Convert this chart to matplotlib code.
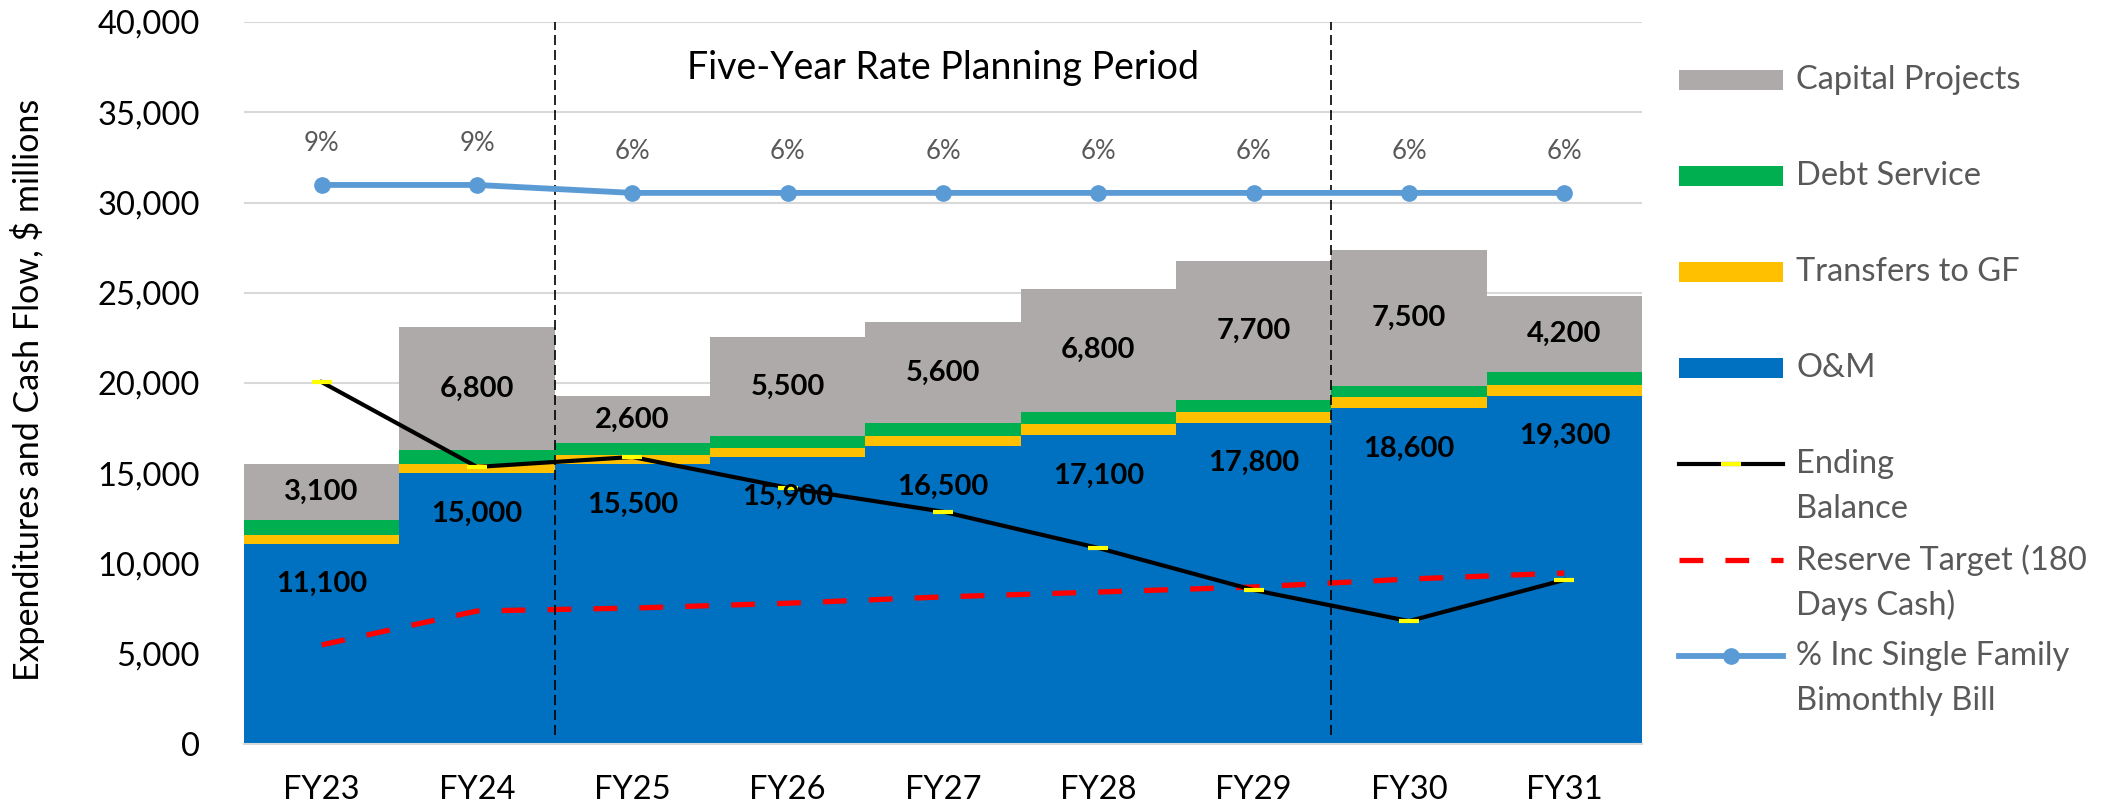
import numpy as np
import matplotlib.pyplot as plt
from matplotlib.lines import Line2D
from matplotlib.ticker import FuncFormatter

plt.rcParams["font.family"] = ["Lato", "DejaVu Sans"]

# values in $ millions
years = ["FY23", "FY24", "FY25", "FY26", "FY27", "FY28", "FY29", "FY30", "FY31"]
om = [11100, 15000, 15500, 15900, 16500, 17100, 17800, 18600, 19300]
transfers = [500, 500, 500, 500, 550, 650, 600, 600, 600]
debt = [830, 780, 660, 660, 720, 660, 660, 660, 720]
capital = [3100, 6800, 2600, 5500, 5600, 6800, 7700, 7500, 4200]
ending_balance = [20050, 15350, 15900, 14200, 12870, 10860, 8530, 6810, 9090]
reserve_target = [5490, 7370, 7530, 7800, 8150, 8420, 8700, 9140, 9470]
bill_increase = [9, 9, 6, 6, 6, 6, 6, 6, 6]  # percent

C_OM = "#0070C0"
C_TR = "#FFC000"
C_DS = "#00B050"
C_CP = "#AEAAAA"
C_BILL = "#5B9BD5"
GREY_TXT = "#595959"

W, H = 2121, 811
fig = plt.figure(figsize=(W / 100, H / 100), dpi=100)
ax = fig.add_axes([244 / W, 67 / H, 1398 / W, 722 / H])

x = np.arange(len(years))
om = np.array(om)
transfers = np.array(transfers)
debt = np.array(debt)
capital = np.array(capital)

ax.bar(x, om, width=1.0, color=C_OM, linewidth=0, zorder=2)
ax.bar(x, transfers, width=1.0, bottom=om, color=C_TR, linewidth=0, zorder=2)
ax.bar(x, debt, width=1.0, bottom=om + transfers, color=C_DS, linewidth=0, zorder=2)
cap_bottom = om + transfers + debt
ax.bar(x, capital, width=1.0, bottom=cap_bottom, color=C_CP, linewidth=0, zorder=2)

# bar labels
for i in range(len(years)):
    ax.annotate(f"{om[i]:,}", (x[i], om[i]), xytext=(0, -29), textcoords="offset points",
                ha="center", va="center", fontsize=21, fontweight="bold", color="black", zorder=5)
    ax.text(x[i], cap_bottom[i] + capital[i] / 2, f"{capital[i]:,}", ha="center", va="center",
            fontsize=21, fontweight="bold", color="black", zorder=5)

# lines
ax.plot(x, reserve_target, color="red", lw=3.8, dashes=(4.5, 4.2), zorder=3)
ax.plot(x, ending_balance, color="black", lw=3, marker="_", markersize=15,
        markeredgewidth=3, markeredgecolor="yellow", zorder=4)

# planning period markers
for xv in [1.5, 6.5]:
    ax.plot([xv, xv], [500, 40000], color="black", lw=1.2, dashes=(6, 3), zorder=4)
ax.text(4, 37450, "Five-Year Rate Planning Period", ha="center", va="center", fontsize=27)

ax.set_xlim(-0.5, 8.5)
ax.set_ylim(0, 40000)
ax.set_yticks(np.arange(0, 40001, 5000))
ax.yaxis.set_major_formatter(FuncFormatter(lambda v, p: f"{v:,.0f}"))
ax.set_xticks(x)
ax.set_xticklabels(years)
ax.tick_params(axis="y", length=0, labelsize=23.5, pad=32)
ax.tick_params(axis="x", length=0, labelsize=23.5, pad=22)
ax.grid(True, axis="y", color="#D9D9D9", lw=1.5)
ax.set_axisbelow(True)
for s in ["top", "right", "left"]:
    ax.spines[s].set_visible(False)
ax.spines["bottom"].set_color("#D9D9D9")
ax.spines["bottom"].set_linewidth(1.5)
ax.set_ylabel("Expenditures and Cash Flow, $ millions", fontsize=24.5)
ax.yaxis.set_label_coords(-0.142, 0.49)

# bill increase on a hidden secondary axis
ax2 = ax.twinx()
ax2.set_ylim(-202, 70.5)
ax2.axis("off")
ax2.plot(x, bill_increase, color=C_BILL, lw=4.2, marker="o", markersize=11, zorder=5)
for i, v in enumerate(bill_increase):
    ax2.annotate(f"{v:.0f}%", (x[i], v), xytext=(0, 30), textcoords="offset points",
                 ha="center", va="center", fontsize=18.5, color=GREY_TXT)

# legend, drawn by hand to match the spreadsheet layout
def fx(px):
    return px / W

def fy(py):
    return 1 - py / H

legend_items = [
    ("patch", C_CP, ["Capital Projects"]),
    ("patch", C_DS, ["Debt Service"]),
    ("patch", C_TR, ["Transfers to GF"]),
    ("patch", C_OM, ["O&M"]),
    ("balance", "black", ["Ending", "Balance"]),
    ("reserve", "red", ["Reserve Target (180", "Days Cash)"]),
    ("bill", C_BILL, ["% Inc Single Family", "Bimonthly Bill"]),
]
x0, x1 = 1679, 1783
for k, (kind, col, lines) in enumerate(legend_items):
    yc = 80 + 96 * k
    xs = [fx(x0), fx((x0 + x1) / 2), fx(x1)]
    ys = [fy(yc)] * 3
    if kind == "patch":
        h = Line2D(xs, ys, color=col, lw=14.4, solid_capstyle="butt")
    elif kind == "balance":
        h = Line2D(xs, ys, color=col, lw=3, marker="_", markevery=[1], markersize=15,
                   markeredgewidth=3, markeredgecolor="yellow")
    elif kind == "reserve":
        h = Line2D(xs, ys, color=col, lw=3.8, dashes=(4.5, 4.2))
    else:
        h = Line2D(xs, ys, color=col, lw=4.2, marker="o", markevery=[1], markersize=11)
    h.set_transform(fig.transFigure)
    fig.add_artist(h)
    for j, line in enumerate(lines):
        fig.text(fx(1796), fy(yc + 45 * j), line, ha="left", va="center",
                 fontsize=23.5, color=GREY_TXT)

fig.savefig("out.png", dpi=100)
